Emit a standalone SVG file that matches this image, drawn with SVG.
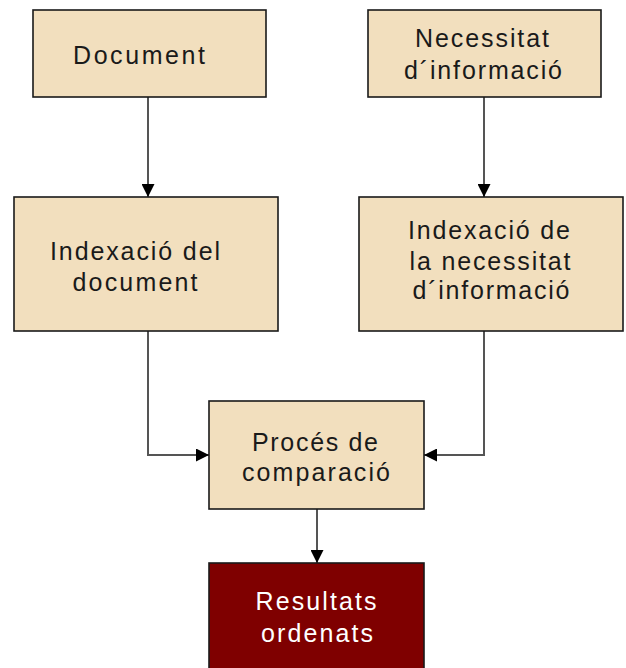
<svg xmlns="http://www.w3.org/2000/svg" width="626" height="668" viewBox="0 0 626 668">
<defs>
<style>
.box{fill:#F2DFBE;stroke:#1a1a1a;stroke-width:1.6}
.dark{fill:#7F0000;stroke:#1a1a1a;stroke-width:1.6}
text{font-family:"Liberation Sans",Arial,sans-serif;font-size:25px;fill:#1a1a1a;text-anchor:middle}
.w{fill:#ffffff}
.c{fill:none;stroke:#555;stroke-width:2}
</style>
<marker id="ah" markerWidth="13" markerHeight="13" refX="13" refY="6.5" orient="auto" markerUnits="userSpaceOnUse" viewBox="0 0 13 13">
<path d="M0,0 L13,6.5 L0,13 Z" fill="#000"/>
</marker>
</defs>
<rect width="626" height="668" fill="#fff"/>
<g id="connectors">
<path class="c" d="M148,97 V197" marker-end="url(#ah)"/>
<path class="c" d="M484,97 V197" marker-end="url(#ah)"/>
<path class="c" d="M148,331 V455 H209" marker-end="url(#ah)"/>
<path class="c" d="M484,331 V455 H424" marker-end="url(#ah)"/>
<path class="c" d="M317,509 V563" marker-end="url(#ah)"/>
</g>
<g id="document">
<rect class="box" x="33" y="10" width="233" height="87"/>
<text x="139" y="64" textLength="132" lengthAdjust="spacing">Document</text>
</g>
<g id="necessitat">
<rect class="box" x="368" y="10" width="233" height="87"/>
<text x="482" y="47" textLength="134" lengthAdjust="spacing">Necessitat</text>
<text x="483" y="79" textLength="158" lengthAdjust="spacing">d´informació</text>
</g>
<g id="indexacio-document">
<rect class="box" x="14" y="197" width="264" height="134"/>
<text x="135" y="260" textLength="170" lengthAdjust="spacing">Indexació del</text>
<text x="135" y="291" textLength="125" lengthAdjust="spacing">document</text>
</g>
<g id="indexacio-necessitat">
<rect class="box" x="359" y="197" width="264" height="134"/>
<text x="489" y="239" textLength="162" lengthAdjust="spacing">Indexació de</text>
<text x="490" y="270" textLength="161" lengthAdjust="spacing">la necessitat</text>
<text x="491" y="299" textLength="157" lengthAdjust="spacing">d´informació</text>
</g>
<g id="proces-comparacio">
<rect class="box" x="209" y="401" width="215" height="108"/>
<text x="315" y="451" textLength="126" lengthAdjust="spacing">Procés de</text>
<text x="316" y="481" textLength="148" lengthAdjust="spacing">comparació</text>
</g>
<g id="resultats">
<rect class="dark" x="209" y="563" width="215" height="110"/>
<text class="w" x="316" y="610" textLength="121" lengthAdjust="spacing">Resultats</text>
<text class="w" x="317" y="642" textLength="112" lengthAdjust="spacing">ordenats</text>
</g>
</svg>
